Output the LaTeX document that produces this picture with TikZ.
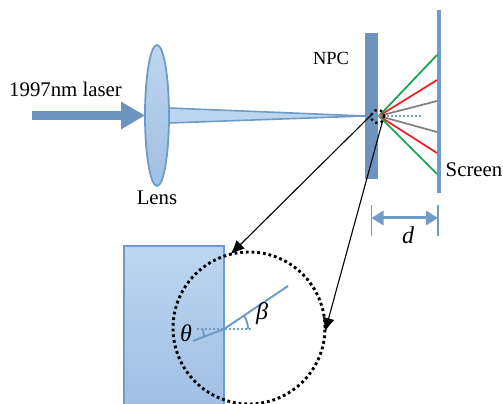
\documentclass[tikz,border=0pt]{standalone}
\usepackage{fontspec}
\setmainfont{Liberation Serif}
\usepackage{xcolor}
\usetikzlibrary{shapes.geometric, arrows.meta, positioning, calc}
\definecolor{bluestroke} {HTML}{6F9BC8}
\definecolor{bluesolid}  {HTML}{6C94BF}
\definecolor{bluelight}  {HTML}{BDD6F0}
\definecolor{bluedeep}   {HTML}{A0BFE3}
\definecolor{raygreen}   {HTML}{12A34A}
\definecolor{rayred}     {HTML}{F01C24}
\definecolor{raygray}    {HTML}{7F7F7F}
\tikzset{
  lbl/.style={font=\fontsize{20.8}{22}\selectfont, text=black, inner sep=0pt},
  anglelbl/.style={font=\fontsize{24}{26}\selectfont\itshape, text=black, inner sep=0pt},
  solidbar/.style={rectangle, fill=bluesolid, inner sep=0pt, outer sep=0pt},
  glassfill/.style={top color=bluelight, bottom color=bluedeep, draw=bluestroke, line width=1.8pt},
  rayline/.style={line width=1.7pt},
  dotring/.style={circle, draw=black, inner sep=0pt, outer sep=0pt, line width=2.9pt,
    dash pattern=on 2.8pt off 2.9pt},
  zoomarr/.style={-{Latex[length=14pt,width=12pt]}, line width=1.1pt, color=black},
  bluedots/.style={draw=bluestroke, line width=2pt, dash pattern=on 2pt off 2pt}
}
\begin{document}
\begin{tikzpicture}[x=1pt, y=1pt]
  \useasboundingbox (0,0) rectangle (503,404);

  %% LASER AND LENS
  \coordinate (laserstart) at (32, 288.5);
  \node[ellipse, glassfill, inner sep=0pt, outer sep=0pt,
        minimum width=24pt, minimum height=141pt] (lens) at (157, 288.5) {};
  \node[solidbar, minimum width=13pt, minimum height=146pt] (plate) at (371.5, 298) {};
  \node[solidbar, fill=bluestroke, minimum width=4pt, minimum height=183pt] (screen) at (439, 302.5) {};
  \coordinate (focus) at (365, 288);
  \coordinate (rayorigin) at (379, 288);

  \draw[-{Triangle[length=24pt,width=26pt]}, line width=9pt, color=bluesolid]
    (laserstart) -- (lens.west);
  \draw[fill=bluelight, draw=bluestroke, line width=1.6pt, line join=round]
    ([yshift=7.5pt] lens.east) -- (focus) -- ([yshift=-7.5pt] lens.east) -- cycle;

  \node[lbl, anchor=west] (laserlbl) at (9, 315) {1997nm laser};
  \node[lbl, below=5pt of lens] (lenslbl) {Lens};
  \node[lbl, font=\fontsize{18.5}{20}\selectfont] (npclbl) at (331, 346) {NPC};
  \node[lbl] (screenlbl) at (474, 234) {Screen};

  %% RAYS
  \foreach \endy/\raycol in {46.5/raygreen, 21.5/rayred, 0.5/raygray,
                             -30.5/raygray, -51.5/rayred, -72.5/raygreen}
    \draw[rayline, color=\raycol] (rayorigin) -- ([yshift=\endy pt] screen.west);
  \draw[bluedots] (rayorigin) -- ++(44, 0);

  \node[dotring, line width=2.4pt, dash pattern=on 2.2pt off 3.4pt,
        minimum size=13pt] (spot) at (377.7, 287.5) {};

  %% DISTANCE d
  \coordinate (dleft) at (371.5, 186);
  \coordinate (dright) at (438, 186);
  \draw[bluestroke, line width=1.8pt] (371.5, 199) -- (371.5, 168);
  \draw[bluestroke, line width=1.8pt] (438, 199) -- (438, 168);
  \draw[{Triangle[length=12pt,width=14pt]}-{Triangle[length=12pt,width=14pt]},
        line width=3pt, color=bluestroke] (dleft) -- (dright);
  \node[anglelbl] (dlbl) at (408, 169) {d};

  %% MAGNIFIED VIEW
  \node[rectangle, glassfill, inner sep=0pt, outer sep=0pt, anchor=north west,
        minimum width=100pt, minimum height=162pt] (block) at (124, 158) {};
  \coordinate (hit) at (224, 75);
  \node[dotring, minimum size=152pt] (zoomring) at (249, 76) {};

  \coordinate (dotleft) at (197, 75);
  \coordinate (dotright) at (253, 75);
  \coordinate (rayout) at (288, 118);
  \coordinate (rayin) at (193, 63);
  \draw[bluedots] (dotleft) -- (dotright);
  \draw[bluestroke, line width=2pt] (rayin) -- (hit) -- (rayout);
  \draw[bluestroke, line width=1.9pt] ($(hit)+(24,0)$) arc[start angle=0, end angle=34, radius=24];
  \draw[bluestroke, line width=1.9pt] ($(hit)+(-21,0)$) arc[start angle=180, end angle=203, radius=21];
  \node[anglelbl] (thetalbl) at (186, 71) {θ};
  \node[anglelbl] (betalbl) at (262, 90) {β};

  \draw[zoomarr] (spot.165) -- (zoomring.104);
  \draw[zoomarr] (spot.-40) -- (zoomring.-3);

\end{tikzpicture}
\end{document}
